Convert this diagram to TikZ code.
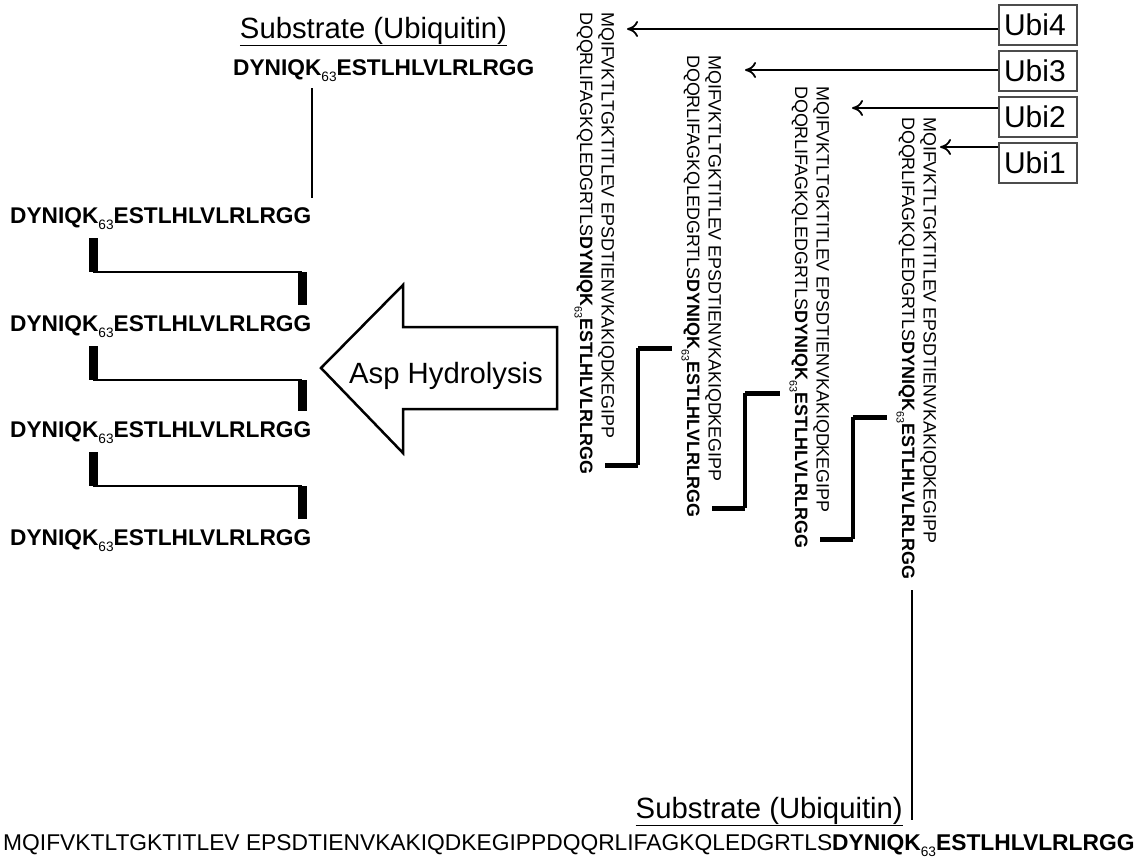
\documentclass[tikz,border=0pt]{standalone}
\usepackage{fontspec}
\usepackage{graphicx}
\setmainfont{Liberation Sans}
\usetikzlibrary{arrows.meta, positioning, calc}
\tikzset{
  seq/.style={font=\fontsize{22.7}{27}\selectfont, inner sep=0pt, anchor=base west},
  vseq/.style={font=\fontsize{17.9}{21}\selectfont, inner sep=0pt, anchor=base west, rotate=-90},
  big/.style={font=\fontsize{29.3}{34}\selectfont, inner sep=0pt},
  ubox/.style={draw=black!70, line width=1.5pt, font=\fontsize{30}{32}\selectfont, text width=68pt,
    inner xsep=5pt, inner ysep=0pt, minimum height=40pt, align=left},
  arr/.style={-{Computer Modern Rightarrow[length=11pt, width=16pt, line width=1.8pt]}, line width=1.5pt},
  bar/.style={line width=9pt},
  lnk/.style={line width=2.5pt},
  stem/.style={line width=2pt},
  vbar/.style={line width=5pt},
  vlnk/.style={line width=3.5pt},
}
\newcommand{\ksite}{\textbf{DYNIQK}\raisebox{-0.3em}{\scalebox{0.6}{63}}\textbf{ESTLHLVLRLRGG}}

\begin{document}
\begin{tikzpicture}[x=1pt, y=-1pt]
  \useasboundingbox (0,0) rectangle (1147,863);
  % chain after hydrolysis
  \node[big, anchor=base] (sub1) at (373.5,38) {\underline{Substrate (Ubiquitin)}};
  \node[seq] (top) at (233,75) {\ksite};
  \foreach \n/\y in {1/223, 2/331, 3/437, 4/545}
    \node[seq] (l\n) at (10,\y) {\ksite};
  \coordinate (k0) at ($(top.base west)+(79,13)$);
  \draw[stem] (k0) -- ($(k0 |- l1.north)+(0,-9)$);
  \foreach \a/\b in {l1/l2, l2/l3, l3/l4} {
    \coordinate (p) at ($(\a.base west)+(83,15)$);
    \coordinate (q) at ($(\b.base east)+(-9,-26)$);
    \draw[bar] (p) -- ++(0,34) coordinate (c);
    \draw[lnk] (c) -- (c -| q) coordinate (d);
    \draw[bar] (d) -- (q);
  }
  % hydrolysis arrow
  \node[big, anchor=base] (asp) at (446,383) {Asp Hydrolysis};
  \draw[line width=2.5pt] (321,368) -- (403,285) -- (403,327) -- (557,327) -- (557,409)
    -- (403,409) -- (403,453) -- cycle;
  % stacked ubiquitins
  \foreach \i/\x/\y in {4/580/12, 3/687/55, 2/795/86, 1/902/117} {
    \node[vseq] (d\i) at (\x,\y) {DQQRLIFAGKQLEDGRTLS\ksite};
    \node[vseq] (m\i) at (\x+21.5,\y) {MQIFVKTLTGKTITLEV EPSDTIENVKAKIQDKEGIPP};
  }
  \foreach \a/\b/\t in {4/3/293, 3/2/307, 2/1/300} {
    \draw[vbar] ($(d\a.base west)+(25,453)$) -- ++(33,0) coordinate (c);
    \coordinate (e) at ($(d\b.base west)+(-15,\t)$);
    \draw[vlnk] (c) -- (c |- e);
    \draw[vbar] (c |- e) -- (e);
  }
  % labels
  \node[ubox] (u4) at (1038,25) {Ubi4};
  \node[ubox, below=4.5pt of u4] (u3) {Ubi3};
  \node[ubox, below=4.5pt of u3] (u2) {Ubi2};
  \node[ubox, below=4.5pt of u2] (u1) {Ubi1};
  \foreach \i/\x/\y in {4/627/29, 3/745/70, 2/852/108, 1/940/147} {
    \coordinate (t\i) at (\x,\y);
    \draw[arr] (u\i.west |- t\i) -- (t\i);
  }
  % full sequence
  \node[seq, font=\fontsize{22.8}{27}\selectfont] (full) at (3,850)
    {MQIFVKTLTGKTITLEV EPSDTIENVKAKIQDKEGIPPDQQRLIFAGKQLEDGRTLS\ksite};
  \node[big, anchor=base east] (sub2) at (903,818) {\underline{Substrate (Ubiquitin)}};
  \coordinate (k1) at ($(d1.base east)+(10,11)$);
  \draw[stem] (k1) -- ($(k1 |- full.north)+(0,-14)$);
\end{tikzpicture}
\end{document}
